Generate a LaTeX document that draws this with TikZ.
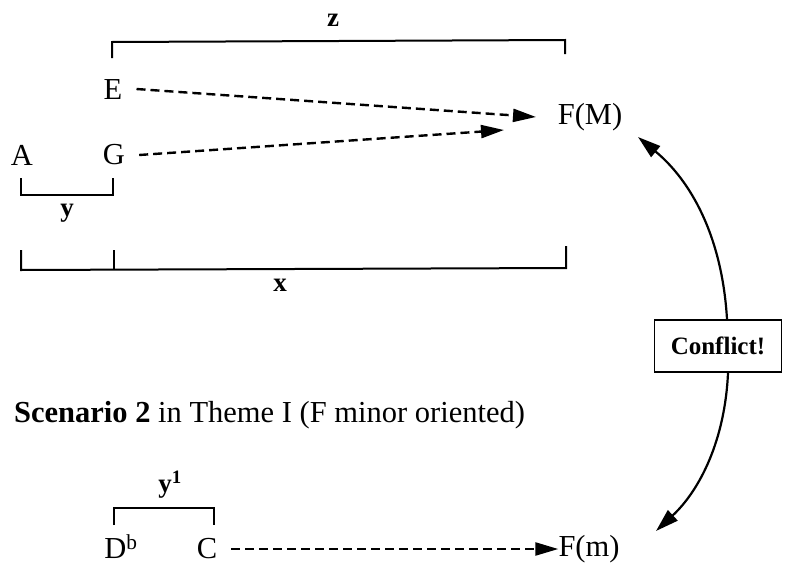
\documentclass[tikz,border=0pt]{standalone}
\usepackage{fontspec}
\setmainfont{Liberation Serif}
\usetikzlibrary{arrows.meta}
\begin{document}
\begin{tikzpicture}[x=1pt,y=-1pt,
  lbl/.style={inner sep=0pt,font=\fontsize{30.5}{34}\selectfont},
  blbl/.style={inner sep=0pt,font=\fontsize{27}{30}\selectfont\bfseries},
  brk/.style={line width=2pt},
  dasharrow/.style={line width=2.4pt,dash pattern=on 9pt off 5pt,-{Triangle[length=23pt,width=13pt]}},
  solidarrow/.style={line width=2.2pt,-{Triangle[length=23pt,width=14pt]}}]
\useasboundingbox (0,0) rectangle (787,565);
% nodes
\node[lbl] (E) at (113,90) {E};
\node[lbl] (G) at (114,155) {G};
\node[lbl] (A) at (22,155) {A};
\node[lbl] (FM) at (590,117) {F(M)};
\node[lbl] (Db) at (121,547) {D\textsuperscript{b}};
\node[lbl] (C) at (207,549) {C};
\node[lbl] (Fm) at (589,549) {F(m)};
\node[lbl,anchor=west] (scen) at (14,415) {\textbf{Scenario 2} in Theme I (F minor oriented)};
\node[draw,line width=1.8pt,minimum width=127pt,minimum height=52pt,inner sep=0pt,font=\fontsize{25}{28}\selectfont\bfseries] (conf) at (718,346) {Conflict!};
% bracket labels
\node[blbl] (zl) at (333,20) {z};
\node[blbl] (yl) at (67,213) {y};
\node[blbl] (xl) at (280,285) {x};
\node[blbl] (y1l) at (170,485) {y\textsuperscript{1}};
% brackets
\draw[brk] (112,58) -- (112,42) -- (565,40) -- (565,54);
\draw[brk] (21,178) -- (21,195) -- (113,195) -- (113,178);
\draw[brk] (21,250) -- (21,270) -- (566,268) -- (566,246);
\draw[brk] (114,250) -- (114,270);
\draw[brk] (114,525) -- (114,508) -- (214,508) -- (214,525);
% dashed arrows
\coordinate (tE) at (536,117);
\coordinate (tG) at (504,130);
\draw[dasharrow] (E.east) ++(14,-1) -- (tE);
\draw[dasharrow] (G.east) ++(14,0) -- (tG);
\draw[dasharrow] (C.east) ++(14,0) -- (Fm.west);
% conflict arrows
\coordinate (tM) at (638,137);
\coordinate (tm) at (656,531);
\draw[solidarrow] (conf.north) ++(9,0) .. controls (722,235) and (690,180) .. (tM);
\draw[solidarrow] (conf.south) ++(10,0) .. controls (725,440) and (700,490) .. (tm);
\end{tikzpicture}
\end{document}
